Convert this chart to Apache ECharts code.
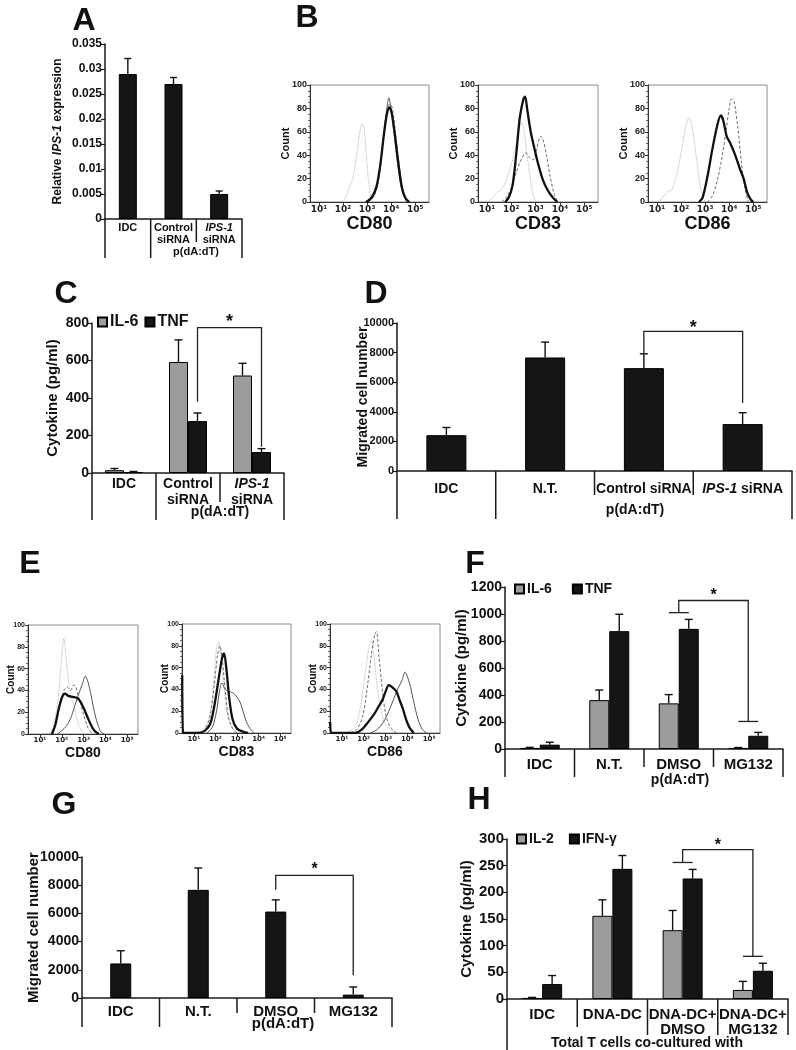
<!DOCTYPE html>
<html><head><meta charset="utf-8">
<script src="https://cdn.jsdelivr.net/npm/echarts@6/dist/echarts.min.js"></script>
<style>html,body{margin:0;padding:0;background:#fff}#c{width:796px;height:1050px}</style>
</head><body><div id="c"></div>
<script>
// ================= DATA =================
// Panel A
const A_categories = ['IDC', 'Control\nsiRNA', 'IPS-1\nsiRNA'];
const A_values = [0.029, 0.027, 0.005];
const A_errors = [0.0031, 0.0013, 0.0006];
// Panel C
const C_categories = ['IDC', 'Control\nsiRNA', 'IPS-1\nsiRNA'];
const C_IL6 = [15, 592, 520];
const C_IL6_err = [9, 118, 65];
const C_TNF = [5, 277, 112];
const C_TNF_err = [3, 43, 18];
// Panel D
const D_categories = ['IDC', 'N.T.', 'Control siRNA', 'IPS-1 siRNA'];
const D_values = [2420, 7670, 6950, 3170];
const D_errors = [520, 1040, 970, 770];
// Panel F
const F_categories = ['IDC', 'N.T.', 'DMSO', 'MG132'];
const F_IL6 = [8, 362, 338, 8];
const F_IL6_err = [4, 75, 65, 3];
const F_TNF = [32, 873, 890, 98];
const F_TNF_err = [18, 125, 70, 25];
// Panel G
const G_categories = ['IDC', 'N.T.', 'DMSO', 'MG132'];
const G_values = [2450, 7670, 6130, 240];
const G_errors = [900, 1550, 830, 540];
// Panel H
const H_categories = ['IDC', 'DNA-DC', 'DNA-DC+\nDMSO', 'DNA-DC+\nMG132'];
const H_IL2 = [2, 156, 129, 17];
const H_IL2_err = [1, 30, 37, 16];
const H_IFN = [28, 244, 226, 53];
const H_IFN_err = [16, 25, 17, 14];
// Y tick settings
const A_yTicks = {min: 0, max: 0.035, interval: 0.005};
const C_yTicks = {min: 0, max: 800, interval: 200};
const D_yTicks = {min: 0, max: 10000, interval: 2000};
const F_yTicks = {min: 0, max: 1200, interval: 200};
const G_yTicks = {min: 0, max: 10000, interval: 2000};
const H_yTicks = {min: 0, max: 300, interval: 50};
const flowDecades = [1, 2, 3, 4, 5];
// Flow histograms (x = log10 fluorescence, y = count)
const B_CD80_iso = [[1.95,0],[2.1,4],[2.25,12],[2.4,20],[2.5,30],[2.6,45],[2.7,60],[2.8,67],[2.88,63],[2.95,45],[3.05,20],[3.15,5],[3.25,0]];
const B_CD80_a = [[3.0,0],[3.2,3],[3.4,12],[3.55,30],[3.7,60],[3.82,80],[3.9,89],[3.98,82],[4.1,62],[4.25,35],[4.4,14],[4.55,4],[4.7,0]];
const B_CD80_b = [[3.05,0],[3.3,5],[3.5,22],[3.68,55],[3.85,80],[3.95,84],[4.05,80],[4.2,55],[4.35,28],[4.5,8],[4.65,0]];
const B_CD80_thick = [[2.95,0],[3.1,2],[3.25,6],[3.4,14],[3.55,32],[3.7,58],[3.82,75],[3.92,81],[4.02,76],[4.15,58],[4.3,33],[4.45,12],[4.6,3],[4.75,0]];
const B_CD83_iso = [[1.0,0],[1.2,3],[1.4,8],[1.55,10],[1.7,14],[1.85,22],[2.0,32],[2.15,45],[2.3,60],[2.42,68],[2.52,62],[2.62,45],[2.75,25],[2.88,8],[3.0,1],[3.1,0]];
const B_CD83_b = [[1.6,0],[1.8,4],[2.0,12],[2.2,25],[2.4,36],[2.6,42],[2.75,38],[2.9,36],[3.05,46],[3.2,56],[3.3,54],[3.45,40],[3.6,22],[3.75,8],[3.9,0]];
const B_CD83_thick = [[1.75,0],[1.9,4],[2.05,14],[2.2,40],[2.35,72],[2.5,88],[2.57,90],[2.65,80],[2.8,60],[2.95,46],[3.1,33],[3.3,19],[3.5,10],[3.7,4],[3.9,0]];
const B_CD86_iso = [[1.0,0],[1.2,3],[1.45,9],[1.6,10],[1.75,18],[1.9,30],[2.05,48],[2.2,65],[2.32,72],[2.42,68],[2.55,52],[2.7,28],[2.85,8],[3.0,0]];
const B_CD86_b = [[3.1,0],[3.3,5],[3.5,18],[3.7,38],[3.85,58],[4.0,80],[4.1,88],[4.2,86],[4.35,65],[4.5,35],[4.65,12],[4.8,0]];
const B_CD86_thick = [[2.75,0],[2.9,4],[3.1,22],[3.3,45],[3.5,65],[3.65,74],[3.75,70],[3.9,56],[4.05,50],[4.25,40],[4.45,28],[4.6,20],[4.75,8],[4.9,2],[5.0,0]];
const E_CD80_iso = [[1.4,0],[1.6,6],[1.8,28],[1.95,60],[2.05,82],[2.1,88],[2.2,70],[2.35,42],[2.5,30],[2.65,18],[2.8,7],[3.0,0]];
const E_CD80_b = [[1.5,0],[1.7,8],[1.9,25],[2.1,40],[2.25,43],[2.4,40],[2.55,45],[2.65,43],[2.8,32],[3.0,18],[3.2,6],[3.4,0]];
const E_CD80_thick = [[1.55,0],[1.7,8],[1.85,22],[2.0,33],[2.15,37],[2.3,35],[2.5,34],[2.7,33],[2.85,30],[3.0,24],[3.15,17],[3.3,10],[3.5,3],[3.7,0]];
const E_CD80_dark = [[1.8,0],[2.0,3],[2.2,7],[2.4,14],[2.6,26],[2.8,38],[2.95,46],[3.08,53],[3.2,48],[3.35,35],[3.5,20],[3.65,9],[3.8,2],[3.95,0]];
const E_CD83_iso = [[1.0,0],[1.3,2],[1.6,8],[1.8,25],[1.95,55],[2.05,78],[2.15,84],[2.25,70],[2.4,40],[2.55,18],[2.75,6],[3.0,0]];
const E_CD83_b = [[1.2,0],[1.5,3],[1.75,15],[1.95,45],[2.1,72],[2.2,80],[2.3,70],[2.45,40],[2.6,15],[2.8,4],[3.0,0]];
const E_CD83_thick = [[0.46,53],[0.5,0],[1.2,0],[1.5,2],[1.75,8],[1.95,25],[2.15,50],[2.3,68],[2.4,73],[2.5,60],[2.65,30],[2.8,12],[3.0,4],[3.3,1],[3.5,0]];
const E_CD83_dark = [[1.6,0],[1.85,5],[2.05,20],[2.2,40],[2.3,46],[2.45,40],[2.6,38],[2.8,37],[2.95,34],[3.1,30],[3.25,22],[3.4,12],[3.6,4],[3.8,0]];
const E_CD86_iso = [[1.2,0],[1.5,4],[1.7,10],[1.9,30],[2.1,60],[2.25,80],[2.35,86],[2.45,75],[2.6,45],[2.8,20],[3.0,8],[3.3,2],[3.6,0]];
const E_CD86_b = [[1.4,0],[1.7,4],[1.95,15],[2.15,40],[2.35,72],[2.5,90],[2.58,93],[2.7,70],[2.85,40],[3.0,18],[3.2,6],[3.5,0]];
const E_CD86_thick = [[0.46,10],[0.5,0],[1.6,0],[1.9,3],[2.2,10],[2.5,18],[2.7,25],[2.85,30],[3.0,38],[3.15,44],[3.3,42],[3.5,38],[3.65,30],[3.8,22],[3.95,12],[4.1,5],[4.3,0]];
const E_CD86_dark = [[2.3,0],[2.6,3],[2.9,10],[3.15,20],[3.35,30],[3.55,40],[3.75,48],[3.9,56],[4.0,52],[4.15,42],[4.3,28],[4.5,12],[4.7,3],[4.9,0]];
// Significance brackets: [category, bar offset, low value], top value
const C_bracket = {p1: [1, 0.5, 380], p2: [2, 0.5, 140], top: 775};
const D_bracket = {p1: [2, 0, 7950], p2: [3, 0, 4600], top: 9430};
const F_bracket = {p1: [2, 0, 1010], p2: [3, 0, 204], top: 1100};
const G_bracket = {p1: [2, 0, 7670], p2: [3, 0, 1620], top: 8690};
const H_bracket = {p1: [2, 0, 256], p2: [3, 0, 80], top: 280};

// ================= LAYOUT / STYLE =================
const FONT = '"Liberation Sans", Arial, sans-serif';
const L = {
  A: {left:105, top:44, width:137, height:175},
  B1:{left:310, top:85, width:119, height:117},
  B2:{left:478, top:85, width:120, height:117},
  B3:{left:648, top:85, width:119, height:117},
  C: {left:92, top:323, width:192, height:150},
  D: {left:397, top:323, width:395, height:148},
  E1:{left:28, top:625, width:110, height:109},
  E2:{left:182, top:624, width:109, height:109},
  E3:{left:330, top:624, width:110, height:109},
  F: {left:505, top:587, width:278, height:162},
  G: {left:82, top:857, width:310, height:141},
  H: {left:507, top:839, width:281, height:160}
};
const BLACK = '#151515', GRAY = '#9c9c9c';
const STYLE = {
  iso:   {color:'#b4b4b4', width:1, type:'dotted'},
  a:     {color:'#5a5a5a', width:1, type:'solid'},
  b:     {color:'#6a6a6a', width:1, type:[3,2]},
  dark:  {color:'#555555', width:1, type:'solid'},
  thick: {color:'#111111', width:2.3, type:'solid'}
};

const grids = [], xAxes = [], yAxes = [], series = [], graphics = [];

function fmtCat(s) { return s.split('\n').map(l => l.replace('IPS-1', '{i|IPS-1}')).join('\n'); }

function barPanel(key, cats, yt, o) {
  const i = grids.length, g = L[key];
  grids.push({left:g.left, top:g.top, width:g.width, height:g.height});
  xAxes.push({gridIndex:i, type:'category', data:cats, boundaryGap:true,
    axisLine:{show:true, onZero:false, lineStyle:{color:'#1a1a1a', width:1.5}},
    axisTick:{show:false}, splitLine:{show:false},
    axisLabel:{interval:0, margin:o.catMargin, fontFamily:FONT, fontWeight:'bold', fontSize:o.catSize, color:'#111', lineHeight:o.catLH,
      formatter: fmtCat,
      rich:{i:{fontStyle:'italic', fontWeight:'bold', fontFamily:FONT, fontSize:o.catSize, color:'#111', lineHeight:o.catLH}}}});
  yAxes.push({gridIndex:i, type:'value', min:yt.min, max:yt.max, interval:yt.interval,
    axisLine:{show:true, lineStyle:{color:'#1a1a1a', width:1.5}},
    axisTick:{show:true, length:4, lineStyle:{color:'#1a1a1a', width:1.2}},
    splitLine:{show:false},
    axisLabel:{margin:3, fontFamily:FONT, fontWeight:'bold', fontSize:o.tickSize, color:'#111',
      formatter: v => v === 0 ? '0' : String(+v.toFixed(4))},
    name:o.yName, nameLocation:'middle', nameGap:o.nameGap, nameRotate:90, nameMoveOverlap:false,
    nameTextStyle:{fontFamily:FONT, fontWeight:'bold', fontSize:o.nameSize, color:'#111',
      rich:{i:{fontStyle:'italic', fontWeight:'bold', fontFamily:FONT, fontSize:o.nameSize, color:'#111'}}}});
  return i;
}

function barSeries(i, name, data, color, bw) {
  series.push({type:'bar', name:name, xAxisIndex:i, yAxisIndex:i, data:data, barWidth:bw, barGap:'0%',
    itemStyle:{color:color, borderColor:'#000', borderWidth:1}, silent:true, z:2});
}

function errSeries(i, vals, errs, offUnits, bw, cap) {
  series.push({type:'custom', xAxisIndex:i, yAxisIndex:i, z:5, silent:true, clip:false,
    data: vals.map((v, k) => [k, v, v + errs[k]]),
    renderItem: (p, api) => {
      const c = api.value(0);
      const a = api.coord([c, api.value(1)]);
      const b = api.coord([c, api.value(2)]);
      const x = a[0] + offUnits * bw;
      return {type:'group', children:[
        {type:'line', shape:{x1:x, y1:a[1], x2:x, y2:b[1]}, style:{stroke:'#111', lineWidth:1.4}},
        {type:'line', shape:{x1:x - cap/2, y1:b[1], x2:x + cap/2, y2:b[1]}, style:{stroke:'#111', lineWidth:1.4}}
      ]};
    }});
}

function bracketSeries(i, b, bw, opt) {
  series.push({type:'custom', xAxisIndex:i, yAxisIndex:i, z:6, silent:true, clip:false,
    data:[[b.p1[0], b.top]],
    renderItem: (p, api) => {
      const p1 = api.coord([b.p1[0], b.p1[2]]), p2 = api.coord([b.p2[0], b.p2[2]]);
      const x1 = p1[0] + b.p1[1] * bw, x2 = p2[0] + b.p2[1] * bw;
      const t = api.coord([b.p1[0], b.top])[1];
      const ls = {stroke:'#222', lineWidth:1.3, fill:'none'};
      const ch = [{type:'polyline', shape:{points:[[x1, p1[1]], [x1, t], [x2, t], [x2, p2[1]]]}, style:ls}];
      if (opt.cap) {
        ch.push({type:'line', shape:{x1:x1 - opt.cap, y1:p1[1], x2:x1 + opt.cap, y2:p1[1]}, style:ls});
        ch.push({type:'line', shape:{x1:x2 - opt.cap, y1:p2[1], x2:x2 + opt.cap, y2:p2[1]}, style:ls});
      }
      ch.push({type:'text', style:{text:'*', x:(x1 + x2) / 2, y:t - opt.starGap, align:'center', verticalAlign:'middle',
        font:'bold ' + opt.starSize + 'px ' + FONT, fill:'#111'}});
      return {type:'group', children:ch};
    }});
}

const SUP = {1:'\u00b9', 2:'\u00b2', 3:'\u00b3', 4:'\u2074', 5:'\u2075'};
function flowPanel(key, curves, o) {
  const i = grids.length, g = L[key];
  grids.push({left:g.left, top:g.top, width:g.width, height:g.height, show:true, borderColor:'#8c8c8c', borderWidth:1, backgroundColor:'rgba(0,0,0,0)'});
  xAxes.push({gridIndex:i, type:'value', min:o.xmin, max:o.xmax,
    name:o.name, nameLocation:'middle', nameGap:o.nameGap, nameMoveOverlap:false,
    nameTextStyle:{fontFamily:FONT, fontWeight:'bold', fontSize:o.nameSize, color:'#111'},
    axisLine:{show:true, onZero:false, lineStyle:{color:'#333', width:1}},
    axisTick:{show:true, customValues:flowDecades, length:3, lineStyle:{color:'#333'}},
    axisLabel:{customValues:flowDecades, formatter: v => '10' + (SUP[Math.round(v)] || ''), fontFamily:'"DejaVu Sans", sans-serif', fontWeight:'bold', fontSize:o.tickSize, color:'#222', margin:3},
    splitLine:{show:false}});
  yAxes.push({gridIndex:i, type:'value', min:0, max:100, interval:20,
    name:'Count', nameLocation:'middle', nameGap:o.countGap, nameRotate:90, nameMoveOverlap:false,
    nameTextStyle:{fontFamily:FONT, fontWeight:'bold', fontSize:o.countSize, color:'#111'},
    axisLine:{show:true, lineStyle:{color:'#333', width:1}},
    axisTick:{show:true, length:3, lineStyle:{color:'#333'}},
    minorTick:{show:true, splitNumber:4, length:2, lineStyle:{color:'#666'}},
    axisLabel:{fontFamily:FONT, fontWeight:'bold', fontSize:o.yTickSize, color:'#222', margin:3},
    splitLine:{show:false}});
  curves.forEach(c => series.push({type:'line', xAxisIndex:i, yAxisIndex:i, data:c[0], showSymbol:false, smooth:0.3,
    silent:true, z:c[1] === 'thick' ? 4 : 3, lineStyle:Object.assign({}, STYLE[c[1]])}));
}

function dividers(key, n, lens) {
  const g = L[key], y0 = g.top + g.height;
  lens.forEach((len, k) => {
    const x = g.left + k * g.width / n;
    graphics.push({type:'line', shape:{x1:x, y1:y0, x2:x, y2:y0 + len}, style:{stroke:'#1a1a1a', lineWidth:1.5}, z:10});
  });
}
function label(text, x, y, size, weight) {
  graphics.push({type:'text', x:x, y:y, z:10, style:{text:text, font:(weight || 'bold') + ' ' + size + 'px ' + FONT, fill:'#111',
    align:'center', verticalAlign:'middle', textAlign:'center', textVerticalAlign:'middle'}});
}

// ================= PANELS =================
// A
const iA = barPanel('A', A_categories, A_yTicks, {catMargin:3, catSize:11, catLH:12, tickSize:12, nameSize:12, nameGap:41,
  yName:'Relative {i|IPS-1} expression'});
barSeries(iA, 'A', A_values, BLACK, 18);
errSeries(iA, A_values, A_errors, 0, 18, 7);
dividers('A', 3, [39, 39, 23, 39]);
label('p(dA:dT)', 196, 252, 11);

// B
const bOpt = {xmin:0.63, xmax:5.57, nameGap:13, nameSize:18, tickSize:9, yTickSize:9, countGap:19, countSize:11};
flowPanel('B1', [[B_CD80_iso,'iso'],[B_CD80_a,'a'],[B_CD80_b,'b'],[B_CD80_thick,'thick']], Object.assign({name:'CD80'}, bOpt));
flowPanel('B2', [[B_CD83_iso,'iso'],[B_CD83_b,'b'],[B_CD83_thick,'thick']], Object.assign({name:'CD83'}, bOpt));
flowPanel('B3', [[B_CD86_iso,'iso'],[B_CD86_b,'b'],[B_CD86_thick,'thick']], Object.assign({name:'CD86'}, bOpt));

// C
const iC = barPanel('C', C_categories, C_yTicks, {catMargin:3, catSize:14, catLH:16, tickSize:14, nameSize:15, nameGap:32,
  yName:'Cytokine (pg/ml)'});
barSeries(iC, 'IL-6', C_IL6, GRAY, 19);
barSeries(iC, 'TNF', C_TNF, BLACK, 19);
errSeries(iC, C_IL6, C_IL6_err, -0.5, 19, 8);
errSeries(iC, C_TNF, C_TNF_err, 0.5, 19, 8);
bracketSeries(iC, C_bracket, 19, {starGap:6, starSize:18});
dividers('C', 3, [47, 47, 29, 47]);
label('p(dA:dT)', 220, 512, 14);

// D
const iD = barPanel('D', D_categories, D_yTicks, {catMargin:10, catSize:14, catLH:16, tickSize:11, nameSize:14, nameGap:27,
  yName:'Migrated cell number'});
barSeries(iD, 'D', D_values, BLACK, 40);
errSeries(iD, D_values, D_errors, 0, 40, 8);
bracketSeries(iD, D_bracket, 40, {starGap:3, starSize:18});
dividers('D', 4, [48, 48, 24, 24, 48]);
label('p(dA:dT)', 635, 510, 14);

// E
const eOpt = {xmin:0.45, xmax:5.5, nameGap:12, nameSize:14, tickSize:7, yTickSize:7, countGap:12, countSize:10};
flowPanel('E1', [[E_CD80_iso,'iso'],[E_CD80_b,'b'],[E_CD80_dark,'dark'],[E_CD80_thick,'thick']], Object.assign({name:'CD80'}, eOpt));
flowPanel('E2', [[E_CD83_iso,'iso'],[E_CD83_b,'b'],[E_CD83_dark,'dark'],[E_CD83_thick,'thick']], Object.assign({name:'CD83'}, eOpt));
flowPanel('E3', [[E_CD86_iso,'iso'],[E_CD86_b,'b'],[E_CD86_dark,'dark'],[E_CD86_thick,'thick']], Object.assign({name:'CD86'}, eOpt));

// F
const iF = barPanel('F', F_categories, F_yTicks, {catMargin:7, catSize:15, catLH:17, tickSize:14, nameSize:15, nameGap:36,
  yName:'Cytokine (pg/ml)'});
barSeries(iF, 'IL-6', F_IL6, GRAY, 20);
barSeries(iF, 'TNF', F_TNF, BLACK, 20);
errSeries(iF, F_IL6, F_IL6_err, -0.5, 20, 8);
errSeries(iF, F_TNF, F_TNF_err, 0.5, 20, 8);
bracketSeries(iF, F_bracket, 20, {cap:10, starGap:5, starSize:16});
dividers('F', 4, [28, 28, 18, 18, 28]);
label('p(dA:dT)', 680, 780, 14);

// G
const iG = barPanel('G', G_categories, G_yTicks, {catMargin:5, catSize:15, catLH:17, tickSize:14, nameSize:15, nameGap:41,
  yName:'Migrated cell number'});
barSeries(iG, 'G', G_values, BLACK, 21);
errSeries(iG, G_values, G_errors, 0, 21, 8);
bracketSeries(iG, G_bracket, 21, {starGap:6, starSize:16});
dividers('G', 4, [29, 29, 15, 15, 29]);
label('p(dA:dT)', 283, 1024, 15);

// H
const iH = barPanel('H', H_categories, H_yTicks, {catMargin:8, catSize:15, catLH:15, tickSize:15, nameSize:15, nameGap:33,
  yName:'Cytokine (pg/ml)'});
barSeries(iH, 'IL-2', H_IL2, GRAY, 20);
barSeries(iH, 'IFN-\u03b3', H_IFN, BLACK, 20);
errSeries(iH, H_IL2, H_IL2_err, -0.5, 20, 8);
errSeries(iH, H_IFN, H_IFN_err, 0.5, 20, 8);
bracketSeries(iH, H_bracket, 20, {cap:10, starGap:4, starSize:16});
dividers('H', 4, [51, 28, 36, 36, 36]);
label('Total T cells co-cultured with', 647, 1043, 14);

// Panel letters
[['A',84,21],['B',307,18],['C',66,294],['D',376,294],['E',30,564],['F',475,564],['G',64,805],['H',479,800]]
  .forEach(l => label(l[0], l[1], l[2], 32));

const legendBase = {icon:'rect', itemWidth:9, itemHeight:9, selectedMode:false, padding:0,
  textStyle:{fontFamily:FONT, fontWeight:'bold', color:'#111', padding:[0,0,0,-2]}};
const legends = [
  Object.assign({}, legendBase, {data:['IL-6','TNF'], left:97, top:314, itemGap:6, textStyle:Object.assign({}, legendBase.textStyle, {fontSize:16})}),
  Object.assign({}, legendBase, {data:['IL-6','TNF'], left:514, top:582, itemGap:20, textStyle:Object.assign({}, legendBase.textStyle, {fontSize:14})}),
  Object.assign({}, legendBase, {data:['IL-2','IFN-\u03b3'], left:516, top:832, itemGap:15, textStyle:Object.assign({}, legendBase.textStyle, {fontSize:14})})
];

const chart = echarts.init(document.getElementById('c'));
chart.setOption({
  animation:false,
  backgroundColor:'#fff',
  textStyle:{fontFamily:FONT},
  grid:grids, xAxis:xAxes, yAxis:yAxes, series:series, legend:legends,
  graphic:{elements:graphics}
});
</script>
</body></html>
